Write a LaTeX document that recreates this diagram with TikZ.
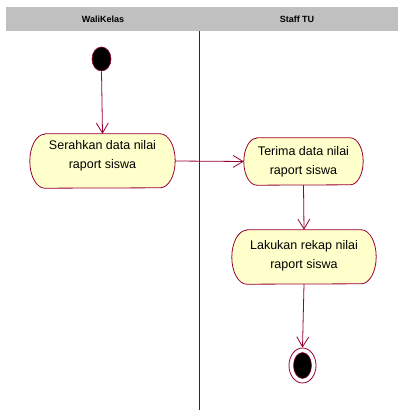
\documentclass[tikz,border=0pt]{standalone}
\usepackage{fontspec}
\setmainfont{Liberation Sans}
\usetikzlibrary{arrows.meta,calc,backgrounds,shapes.geometric}
\definecolor{umlred}{RGB}{153,0,51}
\definecolor{umlfill}{RGB}{255,255,204}
\definecolor{hdr}{RGB}{192,192,192}
\definecolor{divc}{RGB}{90,20,40}
\tikzset{
  x=1pt,y=1pt,
  acttext/.style={align=center,font=\fontsize{12.5}{19.5}\selectfont,inner sep=0pt},
  actnode/.style={draw=none,fill=none,inner sep=0pt,minimum width=#1},
  actline/.style={draw=umlred,fill=umlfill,line width=0.8pt},
  flow/.style={draw=umlred,line width=0.8pt,-{Straight Barb[length=10pt,width=12pt,line width=0.8pt]}},
  hdrtext/.style={font=\fontsize{9}{11}\selectfont\bfseries},
}
\newcommand\actbox[3]{%
  \draw[actline] ($(#1.north west)+(#2,0)$) -- ($(#1.north east)+(-#2,0)$)
    arc[start angle=90,end angle=-90,x radius=#2pt,y radius=#3pt]
    -- ($(#1.south west)+(#2,0)$)
    arc[start angle=270,end angle=90,x radius=#2pt,y radius=#3pt] -- cycle;}
\begin{document}
\begin{tikzpicture}
\useasboundingbox (0,0) rectangle (398,412);
% header
\fill[hdr] (6,381) rectangle (398,405);
\node[hdrtext] (h1) at (103,393) {WaliKelas};
\node[hdrtext] (h2) at (297,393) {Staff TU};
\coordinate (dtop) at (199,381);
\coordinate (dbot) at (199,2);
\draw[divc,line width=0.8pt] (dtop) -- (dbot);
% start
\node[draw=umlred,fill=black,line width=0.6pt,ellipse,minimum width=19pt,minimum height=24pt,inner sep=0pt] (start) at (101.5,353) {};
% activities
\node[actnode=145pt,minimum height=54pt] (a1) at (102.5,251) {};
\node[actnode=119pt,minimum height=47pt] (a2) at (303.5,250.5) {};
\node[actnode=144pt,minimum height=54pt] (a3) at (304,155) {};
\actbox{a1}{15}{27}
\actbox{a2}{13}{23.5}
\actbox{a3}{15}{27}
\node[acttext] (a1t) at (102.5,256) {Serahkan data nilai\\raport siswa};
\node[acttext] (a2t) at (303.5,250) {Terima data nilai\\raport siswa};
\node[acttext] (a3t) at (304,156) {Lakukan rekap nilai\\raport siswa};
% end
\node[draw=umlred,fill=white,line width=0.8pt,ellipse,minimum width=27pt,minimum height=35pt,inner sep=0pt] (end) at (302.5,46.5) {};
\node[draw=umlred,fill=black,line width=0.5pt,ellipse,minimum width=18pt,minimum height=26pt,inner sep=0pt] (endin) at (302.5,46.5) {};
% flows
\draw[flow] (start.south) -- (a1.north);
\draw[flow] (a1.east) -- (a2.west);
\draw[flow] (a2.south) -- (a3.north);
\draw[flow] (a3.south) -- (end.north);
\end{tikzpicture}
\end{document}
